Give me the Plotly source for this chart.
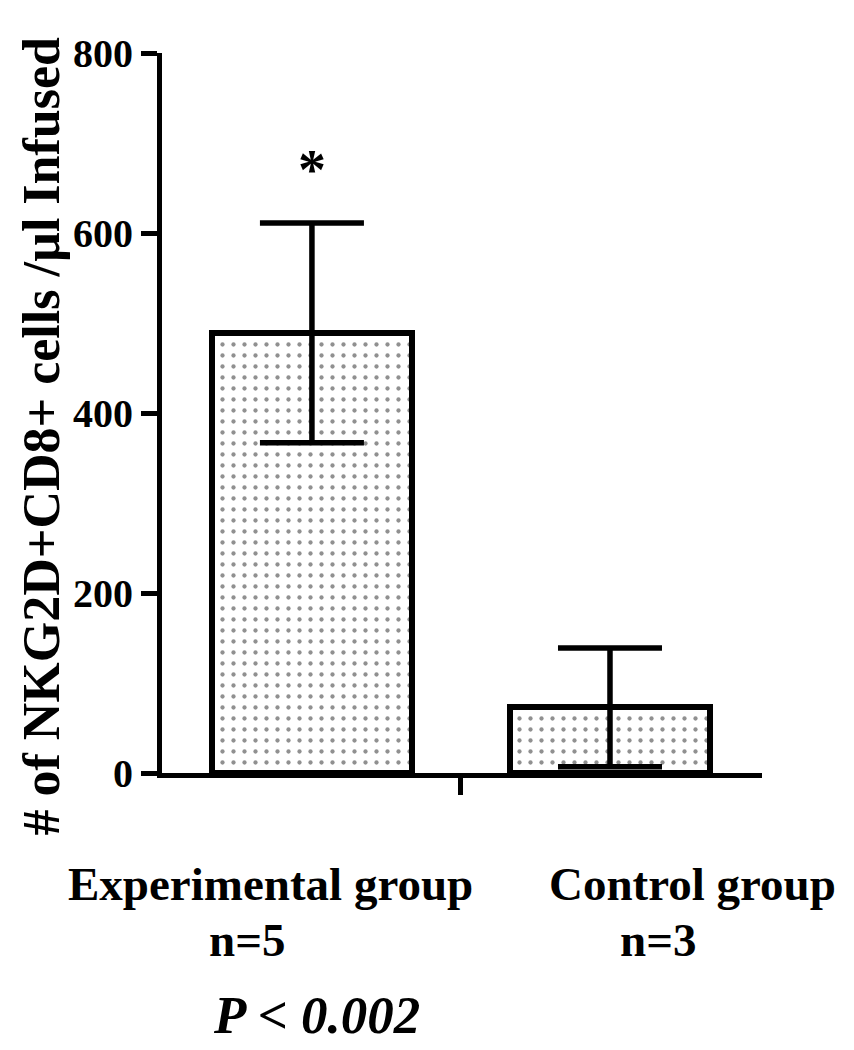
import plotly.graph_objects as go

# data
groups = ['Experimental group', 'Control group']
n_labels = ['n=5', 'n=3']
means = [489, 73]
errors = [122, 66]
y_ticks = [0, 200, 400, 600, 800]

FONT = 'Liberation Serif'
W, H = 854, 1050
PAGE_PAD = 8  # body margin of the html page
L, R, T = 162 - PAGE_PAD, 92 + PAGE_PAD, 53 - PAGE_PAD
plot_h = 720
B = H - T - plot_h

x_pos = list(range(len(groups)))

fig = go.Figure()

fig.add_trace(go.Bar(
    x=x_pos,
    y=means,
    width=0.67,
    marker=dict(
        color='white',
        line=dict(color='black', width=6),
        pattern=dict(shape='.', size=11, solidity=0.12,
                     fgcolor='#222222', bgcolor='white')
    ),
    error_y=dict(type='data', array=errors, visible=True,
                 color='black', thickness=5.5, width=52),
    showlegend=False
))


def py_to_paper(py):
    """pixel row in the reference -> paper y"""
    return (H - B - (py - PAGE_PAD)) / plot_h


annotations = []

# group labels under the axis
label_shift = [-41, 83]
n_shift = [-65, 48]
for i, g in enumerate(groups):
    annotations.append(dict(
        x=x_pos[i], xref='x', y=py_to_paper(884), yref='paper',
        text=g, showarrow=False, xshift=label_shift[i],
        xanchor='center', yanchor='middle',
        font=dict(family=FONT, size=47, color='black', weight='bold')
    ))
    annotations.append(dict(
        x=x_pos[i], xref='x', y=py_to_paper(940), yref='paper',
        text=n_labels[i], showarrow=False, xshift=n_shift[i],
        xanchor='center', yanchor='middle',
        font=dict(family=FONT, size=47, color='black', weight='bold')
    ))

# p value
annotations.append(dict(
    x=x_pos[0], xref='x', y=py_to_paper(1015), yref='paper',
    text='<i>P < 0.002</i>', showarrow=False, xshift=5,
    xanchor='center', yanchor='middle',
    font=dict(family=FONT, size=53, color='black', weight='bold')
))

# significance star above the experimental bar
annotations.append(dict(
    x=x_pos[0], xref='x', y=means[0] + errors[0], yref='y',
    text='*', showarrow=False, yshift=20,
    xanchor='center', yanchor='bottom',
    font=dict(family=FONT, size=56, color='black', weight='bold')
))

# y-axis title (kept just inside the left edge of the figure)
annotations.append(dict(
    x=0, xref='paper', xshift=-(L - 2),
    y=py_to_paper(436), yref='paper',
    text='# of NKG2D+CD8+ cells /\u00b5l Infused', showarrow=False,
    textangle=-90, xanchor='left', yanchor='middle',
    font=dict(family=FONT, size=52, color='black', weight='bold')
))

fig.update_layout(
    width=W, height=H,
    margin=dict(l=L, r=R, t=T, b=B),
    paper_bgcolor='white',
    plot_bgcolor='white',
    font=dict(family=FONT, color='black'),
    annotations=annotations,
    bargap=0
)

fig.update_xaxes(
    range=[-0.503, 1.51],
    showline=True, linecolor='black', linewidth=5,
    showgrid=False, zeroline=False,
    tickvals=[0.5], ticktext=[''],
    ticks='outside', ticklen=17, tickwidth=5, tickcolor='black'
)

fig.update_yaxes(
    range=[0, 800],
    showline=True, linecolor='black', linewidth=5,
    showgrid=False, zeroline=False,
    tickvals=y_ticks,
    ticks='outside', ticklen=16, tickwidth=5, tickcolor='black',
    tickfont=dict(family=FONT, size=40, color='black', weight='bold')
)

fig.write_html("out.html")
